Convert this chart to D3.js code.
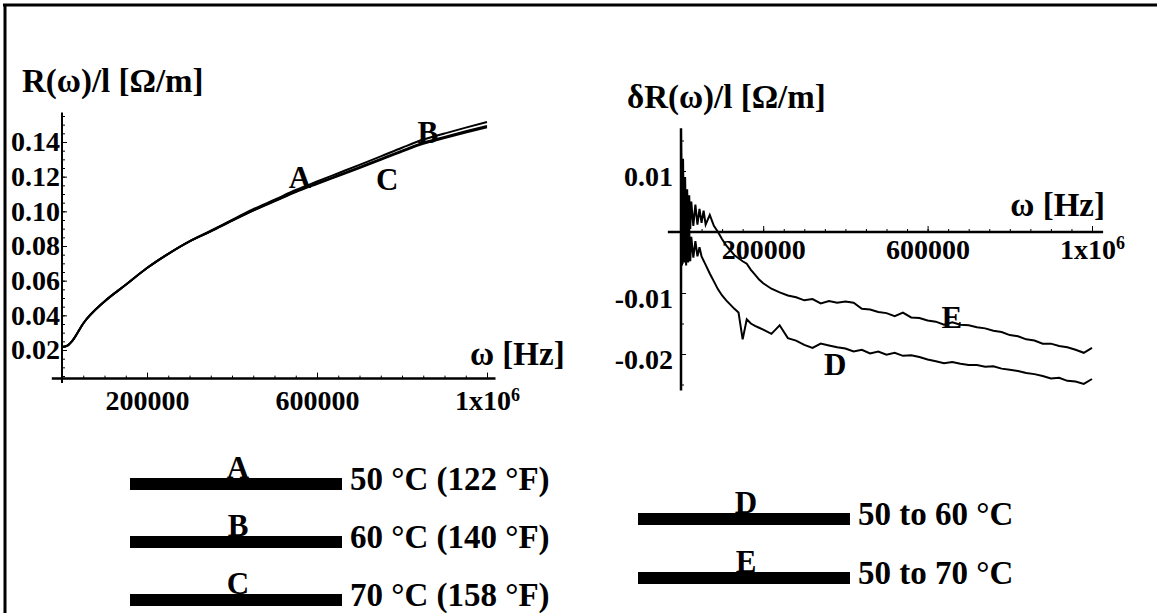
<!DOCTYPE html>
<html>
<head>
<meta charset="utf-8">
<script src="https://cdn.jsdelivr.net/npm/d3@7"></script>
<style>
  body { margin: 0; background: #fff; }
  text { font-family: "Liberation Serif", "Times New Roman", serif; font-weight: bold; fill: #000; }
  .tick text { font-size: 28px; }
  .title { font-size: 33px; }
  .axlab { font-size: 33px; }
  .curvelab { font-size: 31px; }
  .legtext { font-size: 33px; }
</style>
</head>
<body>
<div id="container"></div>
<script>
// ---- left panel: R(w)/l for three temperatures ----
const omegaL = [0, 12500, 25000, 50000, 100000, 150000, 200000, 250000, 300000, 350000, 400000, 450000,
                500000, 550000, 600000, 650000, 700000, 750000, 800000, 850000, 900000, 950000, 1000000];
const resA = [0.0217, 0.0225, 0.0255, 0.0353, 0.0480, 0.0576, 0.0673, 0.0755, 0.0827, 0.0885, 0.0947, 0.1006,
              0.1060, 0.1114, 0.1162, 0.1208, 0.1255, 0.1302, 0.1350, 0.1396, 0.1429, 0.1462, 0.1493];
const resB = [0.0217, 0.0225, 0.0255, 0.0353, 0.0480, 0.0576, 0.0673, 0.0755, 0.0827, 0.0888, 0.0951, 0.1012,
              0.1067, 0.1123, 0.1172, 0.1220, 0.1268, 0.1317, 0.1367, 0.1414, 0.1449, 0.1483, 0.1515];
const resC = [0.0217, 0.0225, 0.0255, 0.0353, 0.0480, 0.0576, 0.0673, 0.0755, 0.0827, 0.0884, 0.0945, 0.1004,
              0.1057, 0.1111, 0.1158, 0.1204, 0.1250, 0.1297, 0.1345, 0.1390, 0.1423, 0.1455, 0.1485];
const ticksLX = [200000, 600000, 1000000];
const ticksLY = [0.02, 0.04, 0.06, 0.08, 0.10, 0.12, 0.14];

// ---- right panel: differences dR(w)/l ----
const omegaR = [0, 2500, 5000, 7500, 10000, 12500, 15000, 17500, 20000, 22500, 25000,
                30000, 35000, 40000, 45000, 50000, 55000, 60000,
                70000, 80000, 90000, 100000, 110000, 120000, 130000, 140000, 150000, 160000, 170000, 180000, 190000,
                200000, 220000, 240000, 260000, 280000, 300000, 320000, 340000, 360000, 380000,
                400000, 420000, 440000, 460000, 480000, 500000, 520000, 540000, 560000, 580000,
                600000, 620000, 640000, 660000, 680000, 700000, 720000, 740000, 760000, 780000,
                800000, 820000, 840000, 860000, 880000, 900000, 920000, 940000, 960000, 980000, 1000000];
const diffE = [0.0165, -0.0030, 0.0120, -0.0020, 0.0090, -0.0010, 0.0070, 0.0000, 0.0060, 0.0005, 0.0050,
               0.0010, 0.0045, 0.0012, 0.0038, 0.0015, 0.0035, 0.0012,
               0.0028, 0.0010, 0.0000, -0.0012, -0.0022, -0.0030, -0.0038, -0.0043, -0.0048, -0.0052, -0.0062, -0.0070, -0.0078,
               -0.0084, -0.0093, -0.0099, -0.0104, -0.0107, -0.0112, -0.0110, -0.0117, -0.0113, -0.0116,
               -0.0114, -0.0116, -0.0126, -0.0127, -0.0131, -0.0133, -0.0138, -0.0132, -0.0140, -0.0141,
               -0.0145, -0.0147, -0.0152, -0.0148, -0.0152, -0.0153, -0.0156, -0.0158, -0.0162, -0.0164,
               -0.0169, -0.0171, -0.0176, -0.0178, -0.0183, -0.0183, -0.0187, -0.0189, -0.0193, -0.0198, -0.0190];
const diffD = [0.0150, -0.0055, 0.0080, -0.0050, 0.0040, -0.0055, 0.0020, -0.0050, 0.0005, -0.0048, -0.0008,
               -0.0042, -0.0015, -0.0040, -0.0025, -0.0040, -0.0047, -0.0054,
               -0.0068, -0.0081, -0.0094, -0.0104, -0.0112, -0.0119, -0.0126, -0.0132, -0.0176, -0.0143, -0.0150, -0.0154, -0.0157,
               -0.0160, -0.0167, -0.0153, -0.0174, -0.0178, -0.0185, -0.0190, -0.0183, -0.0186, -0.0189,
               -0.0191, -0.0196, -0.0193, -0.0199, -0.0196, -0.0201, -0.0198, -0.0203, -0.0202, -0.0205,
               -0.0209, -0.0212, -0.0215, -0.0213, -0.0216, -0.0218, -0.0218, -0.0221, -0.0220, -0.0224,
               -0.0226, -0.0228, -0.0231, -0.0233, -0.0236, -0.0240, -0.0239, -0.0244, -0.0245, -0.0249, -0.0241];
const ticksRX = [200000, 600000, 1000000];
const ticksRY = [0.01, -0.01, -0.02];

// ---- legends ----
const legendKeysL = ['A', 'B', 'C'];
const legendTextL = ['50 °C (122 °F)', '60 °C (140 °F)', '70 °C (158 °F)'];
const legendKeysR = ['D', 'E'];
const legendTextR = ['50 to 60 °C', '50 to 70 °C'];

const width = 1157, height = 613;

const svg = d3.create('svg')
    .attr('width', width)
    .attr('height', height);

// frame (top and left edges only, like the scan)
svg.append('line').attr('x1', 3).attr('x2', width).attr('y1', 5).attr('y2', 5)
    .attr('stroke', '#000').attr('stroke-width', 3);
svg.append('line').attr('x1', 5).attr('x2', 5).attr('y1', 4).attr('y2', height)
    .attr('stroke', '#000').attr('stroke-width', 3);

const fmtTick = d => d === 1000000 ? '1x10' : (d < 0 ? '-' : '') + Math.abs(d).toFixed(d >= 1 ? 0 : 2);
const supSix = g => g.selectAll('.tick text').filter(d => d === 1000000)
    .append('tspan').attr('dy', '-0.55em').attr('font-size', 18).text('6');

// ================= left panel =================
const xL = d3.scaleLinear().domain([0, 1000000]).range([62, 487]);
const yL = d3.scaleLinear().domain([0.02, 0.14]).range([350, 142]);
const originL = 0.0035;

const gL = svg.append('g');

// axis lines
gL.append('line').attr('x1', xL(-24000)).attr('x2', xL(1020000)).attr('y1', yL(originL)).attr('y2', yL(originL))
    .attr('stroke', '#000').attr('stroke-width', 2.5);
gL.append('line').attr('x1', xL(0)).attr('x2', xL(0)).attr('y1', yL(0.157)).attr('y2', yL(0.001))
    .attr('stroke', '#000').attr('stroke-width', 2);

// x ticks
gL.append('g').attr('transform', `translate(0,${yL(originL)})`)
    .call(d3.axisBottom(xL).tickValues(d3.range(50000, 1000001, 50000)).tickSize(-3).tickFormat(''))
    .call(g => g.select('.domain').remove());
gL.append('g').attr('transform', `translate(0,${yL(originL)})`)
    .call(d3.axisBottom(xL).tickValues(ticksLX).tickSize(-6).tickPadding(12).tickFormat(fmtTick))
    .call(g => g.select('.domain').remove())
    .call(supSix);

// y ticks
gL.append('g').attr('transform', `translate(${xL(0)},0)`)
    .call(d3.axisLeft(yL).tickValues(d3.range(0.005, 0.1551, 0.005)).tickSize(-3).tickFormat(''))
    .call(g => g.select('.domain').remove());
gL.append('g').attr('transform', `translate(${xL(0)},0)`)
    .call(d3.axisLeft(yL).tickValues(ticksLY).tickSize(-5).tickPadding(2).tickFormat(fmtTick))
    .call(g => g.select('.domain').remove());

// curves
const lineL = d3.line().x(d => xL(d[0])).y(d => yL(d[1])).curve(d3.curveMonotoneX);
[resC, resA, resB].forEach(s => {
  gL.append('path').datum(d3.zip(omegaL, s))
      .attr('d', lineL).attr('fill', 'none').attr('stroke', '#000').attr('stroke-width', 2);
});

gL.append('text').attr('class', 'title').attr('x', 22).attr('y', 92).text('R(ω)/l [Ω/m]');
gL.append('text').attr('class', 'axlab').attr('x', 470).attr('y', 365).text('ω [Hz]');

const labL = [['A', 560000, 0.1135], ['B', 861000, 0.1394], ['C', 765000, 0.1123]];
gL.selectAll('.curvelab').data(labL).enter().append('text').attr('class', 'curvelab')
    .attr('text-anchor', 'middle').attr('x', d => xL(d[1])).attr('y', d => yL(d[2])).text(d => d[0]);

// ================= right panel =================
const xR = d3.scaleLinear().domain([0, 1000000]).range([681, 1092]);
const yR = d3.scaleLinear().domain([0, 0.01]).range([232, 171]);

const gR = svg.append('g');
gR.append('line').attr('x1', xR(-32000)).attr('x2', xR(1027000)).attr('y1', yR(0)).attr('y2', yR(0))
    .attr('stroke', '#000').attr('stroke-width', 2.5);
gR.append('line').attr('x1', xR(0)).attr('x2', xR(0)).attr('y1', yR(0.017)).attr('y2', yR(-0.026))
    .attr('stroke', '#000').attr('stroke-width', 2.5);

gR.append('g').attr('transform', `translate(0,${yR(0)})`)
    .call(d3.axisBottom(xR).tickValues(d3.range(50000, 1000001, 50000)).tickSize(-3).tickFormat(''))
    .call(g => g.select('.domain').remove());
gR.append('g').attr('transform', `translate(0,${yR(0)})`)
    .call(d3.axisBottom(xR).tickValues(ticksRX).tickSize(-6).tickPadding(7).tickFormat(fmtTick))
    .call(g => g.select('.domain').remove())
    .call(supSix);

gR.append('g').attr('transform', `translate(${xR(0)},0)`)
    .call(d3.axisLeft(yR).tickValues(d3.range(-0.025, 0.0151, 0.005)).tickSize(-3).tickFormat(''))
    .call(g => g.select('.domain').remove());
gR.append('g').attr('transform', `translate(${xR(0)},0)`)
    .call(d3.axisLeft(yR).tickValues(ticksRY).tickSize(-5).tickPadding(8).tickFormat(fmtTick))
    .call(g => g.select('.domain').remove())
    .call(g => g.selectAll('.tick text').attr('dy', '0.52em'));

const lineR = d3.line().x(d => xR(d[0])).y(d => yR(d[1]));
[diffD, diffE].forEach(s => {
  gR.append('path').datum(d3.zip(omegaR, s))
      .attr('d', lineR).attr('fill', 'none').attr('stroke', '#000').attr('stroke-width', 2);
});

gR.append('text').attr('class', 'title').attr('x', 627).attr('y', 108).text('δR(ω)/l [Ω/m]');
gR.append('text').attr('class', 'axlab').attr('x', 1105).attr('y', 216).attr('text-anchor', 'end').text('ω [Hz]');

const labR = [['D', 375000, -0.0234], ['E', 659000, -0.0157]];
gR.selectAll('.curvelab').data(labR).enter().append('text').attr('class', 'curvelab')
    .attr('text-anchor', 'middle').attr('x', d => xR(d[1])).attr('y', d => yR(d[2])).text(d => d[0]);

// ================= legends =================
function legend(keys, texts, x0, x1, yTop, step) {
  const g = svg.append('g');
  keys.forEach((k, i) => {
    const y = yTop + i * step;
    g.append('rect').attr('x', x0).attr('y', y).attr('width', x1 - x0).attr('height', 12).attr('fill', '#000');
    g.append('text').attr('class', 'curvelab').attr('text-anchor', 'middle')
        .attr('x', (x0 + x1) / 2 + 2).attr('y', y).text(k);
    g.append('text').attr('class', 'legtext').attr('x', x1 + 8).attr('y', y + 12).text(texts[i]);
  });
}
legend(legendKeysL, legendTextL, 130, 342, 478, 58);
legend(legendKeysR, legendTextR, 638, 850, 513, 59);

container.append(svg.node());
</script>
</body>
</html>
